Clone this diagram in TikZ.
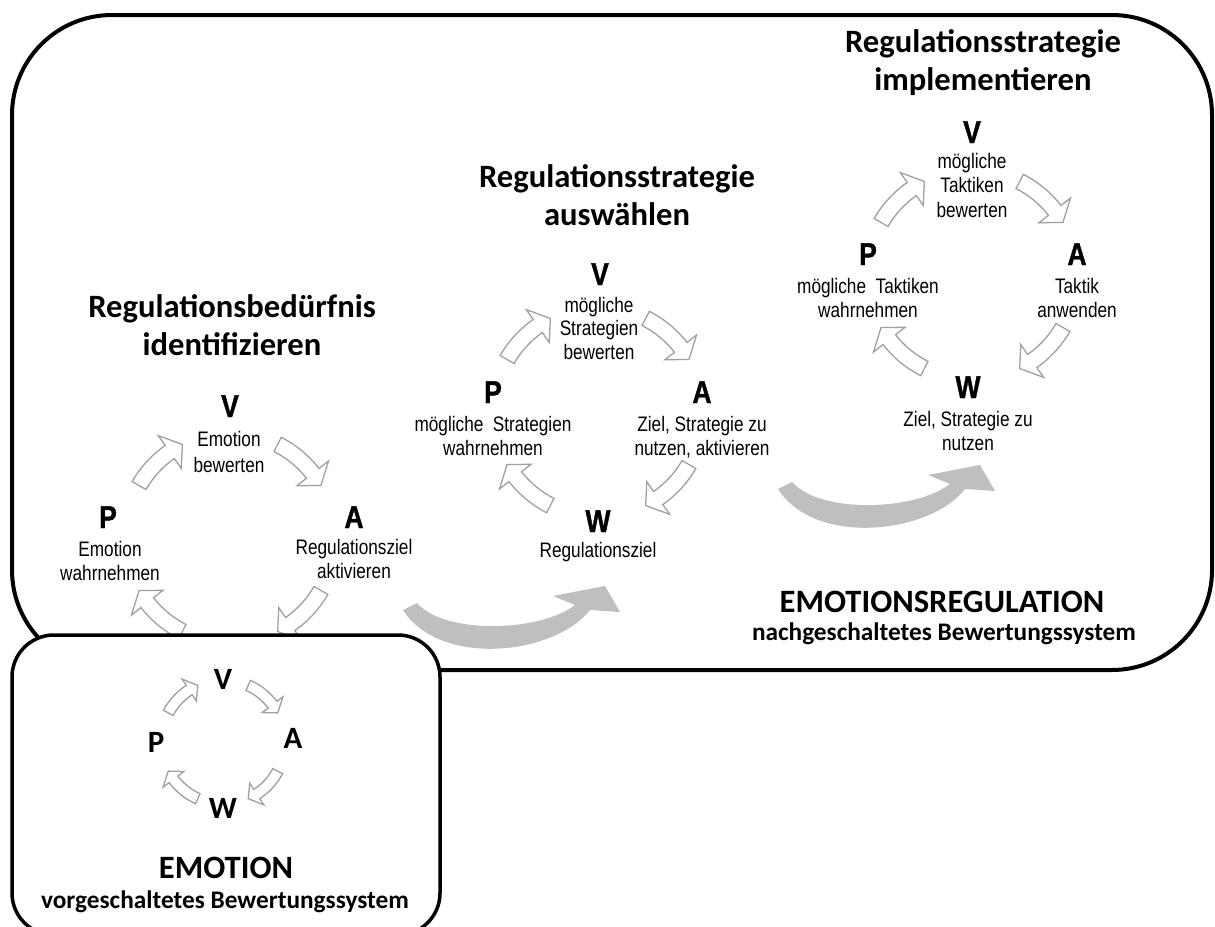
\documentclass[tikz,border=0pt]{standalone}
\usepackage{fontspec}
\setmainfont{Carlito}
\newfontfamily\narrowfont[FakeStretch=0.82]{Liberation Sans}
\newfontfamily\letterfont[FakeStretch=0.84, FakeBold=1.2]{Liberation Sans Bold}

\definecolor{arrowline}{RGB}{160,160,160}
\definecolor{arrowfill}{RGB}{191,191,191}

% clockwise block arc arrow: centre, radius, start angle, end angle,
% half shaft width, half head width, head length in degrees
\newcommand{\cycarrow}[8][cyclearrow]{%
  \pgfmathsetmacro{\hdbase}{#5+#8}%
  \draw[#1, shift={(#2)}]
    ({#4}:{#3+#6}) arc[start angle={#4}, end angle={\hdbase}, radius={#3+#6}]
    -- ({\hdbase}:{#3+#7}) -- ({#5}:{#3}) -- ({\hdbase}:{#3-#7})
    -- ({\hdbase}:{#3-#6})
    arc[start angle={\hdbase}, end angle={#4}, radius={#3-#6}] -- cycle;
}

% multi-line nodes are placed by the baseline of their last line
\tikzset{
  x=1pt, y=1pt,
  frame/.style={draw=black, line width=4pt, fill=white},
  cyclearrow/.style={draw=arrowline, line width=1.3pt, fill=white, line join=miter},
  title/.style={anchor=base, inner sep=0pt, align=center, font=\fontsize{32.6}{38}\selectfont\bfseries},
  letter/.style={anchor=base, inner sep=0pt, font=\letterfont\fontsize{31.5}{31.5}\selectfont},
  smallletter/.style={anchor=base, inner sep=0pt, font=\fontsize{31}{31}\selectfont\bfseries},
  body/.style={anchor=base, inner sep=0pt, align=center, font=\narrowfont\fontsize{21}{23.5}\selectfont},
  sysname/.style={anchor=base, inner sep=0pt, font=\fontsize{32.6}{38}\selectfont\bfseries},
  syssub/.style={anchor=base, inner sep=0pt, font=\fontsize{25.3}{30}\selectfont\bfseries},
  bigarrow/.pic={
    \fill[arrowfill]
      (0,0) -- (14,7)
      .. controls (42,-25) and (137,-22) .. (172,5)
      -- (150,14) -- (202,24) -- (217,-2) -- (187,0)
      .. controls (152,-45) and (37,-58) .. (0,0) -- cycle;
  }
}

\begin{document}
\begin{tikzpicture}
\clip (0,0) rectangle (1215,-926);
\fill[white] (0,0) rectangle (1215,-926);

% outer frame: downstream appraisal system
\draw[frame, rounded corners=100pt] (12,-15) rectangle (1212,-670);

% cycle centres
\coordinate (c1) at (230,-538);
\coordinate (c2) at (598,-412);
\coordinate (c3) at (972,-275);
\coordinate (c0) at (223,-742);

% cycle arrows of the three regulation cycles
\foreach \cc in {c1,c2,c3}{
  \cycarrow{\cc}{105}{150}{117}{8}{20}{8}
  \cycarrow{\cc}{105}{63}{30}{8}{20}{8}
  \cycarrow{\cc}{105}{-30}{-63}{8}{20}{8}
  \cycarrow{\cc}{105}{-117}{-150}{8}{20}{8}
}

% transitions between the cycles
\pic at (403,-610) {bigarrow};
\pic at (778,-489) {bigarrow};

% cycle 1
\node[title] (t1) at (232,-355) {Regulationsbedürfnis\\identifizieren};
\node[letter] (v1) at (230,-417) {V};
\node[body, font=\narrowfont\fontsize{21}{26}\selectfont] (v1t) at (229,-472) {Emotion\\bewerten};
\node[letter] (p1) at (108,-528) {P};
\node[body] (p1t) at (110,-580) {Emotion\\wahrnehmen};
\node[letter] (a1) at (354,-528) {A};
\node[body] (a1t) at (354,-578) {Regulationsziel\\aktivieren};

% cycle 2
\node[title] (t2) at (617,-225) {Regulationsstrategie\\auswählen};
\node[letter] (v2) at (600,-285) {V};
\node[body] (v2t) at (599,-359) {mögliche\\Strategien\\bewerten};
\node[letter] (p2) at (493,-403) {P};
\node[body] (p2t) at (493,-455) {mögliche\ \ Strategien\\wahrnehmen};
\node[letter] (a2) at (702,-403) {A};
\node[body] (a2t) at (702,-455) {Ziel, Strategie zu\\nutzen, aktivieren};
\node[letter] (w2) at (598,-532) {W};
\node[body] (w2t) at (598,-557) {Regulationsziel};

% cycle 3
\node[title] (t3) at (983,-90) {Regulationsstrategie\\implementieren};
\node[letter] (v3) at (972,-143) {V};
\node[body, font=\narrowfont\fontsize{21}{24.5}\selectfont] (v3t) at (972,-217) {mögliche\\Taktiken\\bewerten};
\node[letter] (p3) at (868,-265) {P};
\node[body] (p3t) at (868,-317) {mögliche\ \ Taktiken\\wahrnehmen};
\node[letter] (a3) at (1077,-265) {A};
\node[body] (a3t) at (1077,-317) {Taktik\\anwenden};
\node[letter] (w3) at (968,-398) {W};
\node[body] (w3t) at (968,-450) {Ziel, Strategie zu\\nutzen};

\node[sysname] (er) at (942,-612) {EMOTIONSREGULATION};
\node[syssub] (ers) at (944,-640) {nachgeschaltetes Bewertungssystem};

% inner frame: upstream appraisal system
\draw[frame, line width=3.5pt, rounded corners=42pt] (12,-635) rectangle (440,-935);

\cycarrow{c0}{62}{152}{114}{5.5}{13}{9}
\cycarrow{c0}{62}{66}{28}{5.5}{13}{9}
\cycarrow{c0}{62}{-28}{-66}{5.5}{13}{9}
\cycarrow{c0}{62}{-114}{-152}{5.5}{13}{9}

\node[smallletter] (v0) at (223,-689) {V};
\node[smallletter] (p0) at (156,-752) {P};
\node[smallletter] (a0) at (293,-748) {A};
\node[smallletter] (w0) at (223,-818) {W};

\node[sysname] (em) at (226,-878) {EMOTION};
\node[syssub] (ems) at (225,-908) {vorgeschaltetes Bewertungssystem};
\end{tikzpicture}
\end{document}
